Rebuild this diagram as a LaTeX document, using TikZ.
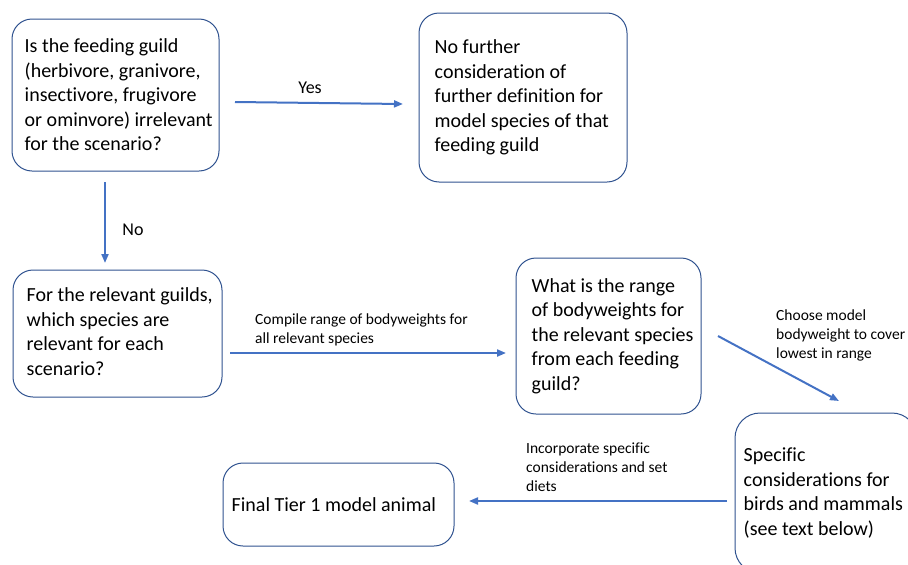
\documentclass[tikz,border=0pt]{standalone}
\usepackage{fontspec}
\setmainfont[Ligatures=NoCommon]{Carlito}
\usetikzlibrary{arrows.meta}
\definecolor{arrowblue}{HTML}{4472C4}
\definecolor{boxblue}{HTML}{2F528F}
\begin{document}
\begin{tikzpicture}[x=1pt,y=-1pt,
  flowbox/.style={draw=boxblue, line width=1pt, rounded corners=20pt, inner sep=0pt},
  boxtext/.style={font=\fontsize{20}{24.5}\selectfont, align=left, inner sep=0pt, anchor=west},
  flow/.style={draw=arrowblue, line width=2pt, -{Triangle[length=9pt,width=7pt]}},
  smalllabel/.style={font=\fontsize{15.5}{19}\selectfont, align=left, inner sep=0pt, anchor=west},
  biglabel/.style={font=\fontsize{18}{22}\selectfont, inner sep=0pt}]
\useasboundingbox (0,0) rectangle (908,565);
\clip (0,0) rectangle (908,565);

% question: is the guild relevant?
\node[flowbox, minimum width=207pt, minimum height=152pt] (q1) at (115.5,95) {};
\node[boxtext] (q1t) at ([xshift=13pt]q1.west)
  {Is the feeding guild\\(herbivore, granivore,\\insectivore, frugivore\\or ominvore) irrelevant\\for the scenario?};

% outcome for irrelevant guilds
\node[flowbox, minimum width=208pt, minimum height=169pt] (q2) at (523,97.5) {};
\node[boxtext] (q2t) at ([xshift=16pt]q2.west)
  {No further\\consideration of\\further definition for\\model species of that\\feeding guild};

% relevant species
\node[flowbox, minimum width=209pt, minimum height=127pt] (q3) at (117.5,333.5) {};
\node[boxtext] (q3t) at ([xshift=14pt,yshift=2pt]q3.west)
  {For the relevant guilds,\\which species are\\relevant for each\\scenario?};

% range of bodyweights
\node[flowbox, minimum width=185pt, minimum height=156pt] (q4) at (608.5,336) {};
\node[boxtext] (q4t) at ([xshift=16pt]q4.west)
  {What is the range\\of bodyweights for\\the relevant species\\from each feeding\\guild?};

% specific considerations
\node[flowbox, rounded corners=25pt, minimum width=182pt, minimum height=160pt] (q5) at (826,493) {};
\node[boxtext] (q5t) at ([xshift=9pt]q5.west)
  {Specific\\considerations for\\birds and mammals\\(see text below)};

% final model animal
\node[flowbox, minimum width=231pt, minimum height=83pt] (q6) at (338.5,504.5) {};
\node[boxtext] (q6t) at ([xshift=9pt]q6.west) {Final Tier 1 model animal};

% connector end points
\coordinate (yesA) at (235,102);
\coordinate (yesB) at (403,104);
\coordinate (noA) at (105,182);
\coordinate (noB) at (105,263);
\coordinate (cmpA) at (230,353);
\coordinate (cmpB) at (506,353);
\coordinate (chsA) at (718,336);
\coordinate (chsB) at (839,401);
\coordinate (incA) at (727,501);
\coordinate (incB) at (469,501);

\draw[flow] (yesA) -- (yesB);
\draw[flow] (noA) -- (noB);
\draw[flow] (cmpA) -- (cmpB);
\draw[flow] (chsA) -- (chsB);
\draw[flow] (incA) -- (incB);

% connector labels
\node[biglabel] (yesl) at (310,88) {Yes};
\node[biglabel] (nol) at (133,230) {No};
\node[smalllabel] (cmpl) at (255,329.5) {Compile range of bodyweights for\\all relevant species};
\node[smalllabel] (chsl) at (776,335.5) {Choose model\\bodyweight to cover\\lowest in range};
\node[smalllabel] (incl) at (526,467) {Incorporate specific\\considerations and set\\diets};
\end{tikzpicture}
\end{document}
